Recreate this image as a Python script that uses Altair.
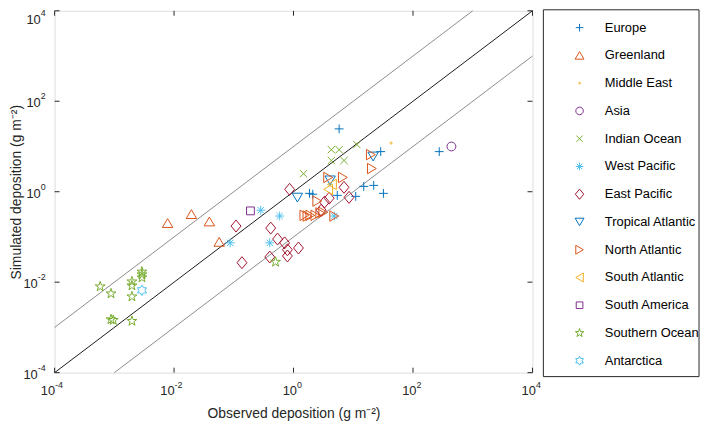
import altair as alt
import pandas as pd

regions = ["Europe", "Greenland", "Middle East", "Asia", "Indian Ocean", "West Pacific",
           "East Pacific", "Tropical Atlantic", "North Atlantic", "South Atlantic",
           "South America", "Southern Ocean", "Antarctica"]
colors = ["#0072BD", "#D95319", "#EDB120", "#7E2F8E", "#77AC30", "#4DBEEE", "#A2142F",
          "#0072BD", "#D95319", "#EDB120", "#7E2F8E", "#77AC30", "#4DBEEE"]

# observed / simulated deposition (g m-2)
europe_obs = [5.8, 28.8, 275, 15, 22, 32, 11, 5.4, 1.85, 2.1]
europe_sim = [24.5, 7.7, 7.7, 1.31, 1.38, 0.92, 0.79, 0.83, 0.92, 0.88]
greenland_obs = [0.0078, 0.0195, 0.039, 0.057]
greenland_sim = [0.203, 0.32, 0.22, 0.078]
middle_east_obs = [43]
middle_east_sim = [11.9]
asia_obs = [440]
asia_sim = [10]
indian_obs = [4.3, 5.8, 4.3, 7.0, 11.5, 1.47]
indian_sim = [8.5, 8.5, 4.9, 4.9, 11, 2.5]
west_pacific_obs = [0.283, 0.586, 0.087, 0.40, 4.8]
west_pacific_sim = [0.39, 0.29, 0.074, 0.074, 0.29]
east_pacific_obs = [0.109, 0.137, 0.415, 0.54, 0.71, 0.79, 1.21, 0.40, 0.79, 0.86, 7.0, 8.5, 3.95, 3.3, 2.9]
east_pacific_sim = [0.174, 0.027, 0.157, 0.090, 0.074, 0.052, 0.057, 0.036, 0.038, 1.13, 1.25, 0.75, 0.72, 0.59, 0.39]
tropical_obs = [1.16, 4.1, 21.5]
tropical_sim = [0.74, 1.78, 6.0]
north_obs = [19.7, 20.5, 3.8, 6.7, 2.5, 4.8, 1.52, 1.71, 1.91, 2.32, 2.8, 3.15]
north_sim = [6.6, 3.26, 2.07, 2.07, 0.62, 0.29, 0.30, 0.29, 0.30, 0.30, 0.34, 0.35]
south_atl_obs = [3.8, 4.4]
south_atl_sim = [1.13, 1.45]
south_america_obs = [0.19]
south_america_sim = [0.377]
southern_obs = [5.8e-4, 8.8e-4, 0.00197, 0.00197, 0.00197, 0.0029, 0.0029, 0.0029, 8.8e-4, 9.6e-4, 0.00197, 0.50]
southern_sim = [0.008, 0.0056, 0.0103, 0.0084, 0.0048, 0.017, 0.0148, 0.0126, 0.0015, 0.00145, 0.00138, 0.028]
antarctica_obs = [0.0029]
antarctica_sim = [0.0066]

obs_lists = [europe_obs, greenland_obs, middle_east_obs, asia_obs, indian_obs, west_pacific_obs,
             east_pacific_obs, tropical_obs, north_obs, south_atl_obs, south_america_obs,
             southern_obs, antarctica_obs]
sim_lists = [europe_sim, greenland_sim, middle_east_sim, asia_sim, indian_sim, west_pacific_sim,
             east_pacific_sim, tropical_sim, north_sim, south_atl_sim, south_america_sim,
             southern_sim, antarctica_sim]

tick_values = [1e-4, 1e-2, 1, 1e2, 1e4]
tick_exps = ["-4", "-2", "0", "2", "4"]

# marker shapes (MATLAB-like)
shapes = [
    "M-0.85,0L0.85,0M0,-0.85L0,0.85",                                   # +
    "M0,-0.85L1,0.85L-1,0.85Z",                                         # triangle up
    "M0.2,0A0.2,0.2 0 1,1 -0.2,0A0.2,0.2 0 1,1 0.2,0Z",                 # dot
    "M0.85,0A0.85,0.85 0 1,1 -0.85,0A0.85,0.85 0 1,1 0.85,0Z",          # circle
    "M-0.7,-0.7L0.7,0.7M-0.7,0.7L0.7,-0.7",                             # x
    "M-0.85,0L0.85,0M0,-0.85L0,0.85M-0.6,-0.6L0.6,0.6M-0.6,0.6L0.6,-0.6",  # asterisk
    "M0,-1.15L0.95,0L0,1.15L-0.95,0Z",                                  # diamond
    "M0,0.85L1,-0.85L-1,-0.85Z",                                        # triangle down
    "M0.85,0L-0.85,1L-0.85,-1Z",                                        # triangle right
    "M-0.85,0L0.85,1L0.85,-1Z",                                         # triangle left
    "M-0.75,-0.75L0.75,-0.75L0.75,0.75L-0.75,0.75Z",                    # square
    "M0,-1L0.2245,-0.309L0.951,-0.309L0.363,0.118L0.588,0.809L0,0.382L-0.588,0.809L-0.363,0.118L-0.951,-0.309L-0.2245,-0.309Z",  # star
    "M0,-1L0.289,-0.5L0.866,-0.5L0.577,0L0.866,0.5L0.289,0.5L0,1L-0.289,0.5L-0.866,0.5L-0.577,0L-0.866,-0.5L-0.289,-0.5Z",  # hexagram
]

rows = []
for name, obs, sim in zip(regions, obs_lists, sim_lists):
    for o, s in zip(obs, sim):
        rows.append({"region": name, "obs": o, "sim": s})
df = pd.DataFrame(rows)

W, H = 482, 365
FONT = "Liberation Sans"
TXT = "#262626"
xscale = alt.Scale(type="log", domain=[1e-4, 1e4], nice=False)
yscale = alt.Scale(type="log", domain=[1e-4, 1e4], nice=False)

x_enc = alt.X("obs:Q", scale=xscale, title="Observed deposition (g m⁻²)",
              axis=alt.Axis(values=tick_values, labels=False, grid=False, domain=False, ticks=False,
                            titleFont=FONT, titleFontSize=14, titleFontWeight="normal", titleColor=TXT,
                            titleY=34, titleBaseline="top"))
y_enc = alt.Y("sim:Q", scale=yscale, title="Simulated deposition (g m⁻²)",
              axis=alt.Axis(values=tick_values, labels=False, grid=False, domain=False, ticks=False,
                            titleFont=FONT, titleFontSize=14, titleFontWeight="normal", titleColor=TXT,
                            titleX=-31, titleBaseline="bottom"))

leg = alt.Legend(orient="none", legendX=523, legendY=10, padding=0, labelFont=FONT, labelFontSize=13,
                 labelColor="#000000", symbolSize=80, symbolStrokeWidth=1, clipHeight=14,
                 rowPadding=14, labelOffset=19, symbolOffset=0)

points = alt.Chart(df).mark_point(filled=False, strokeWidth=1, size=110, opacity=1).encode(
    x=x_enc, y=y_enc,
    color=alt.Color("region:N", scale=alt.Scale(domain=regions, range=colors), legend=leg, title=None),
    shape=alt.Shape("region:N", scale=alt.Scale(domain=regions, range=shapes), legend=leg, title=None),
)

one_obs = [1e-4, 1e4]
one_sim = [1e-4, 1e4]
up_obs = [1e-4, 1e3]
up_sim = [1e-3, 1e4]
lo_obs = [1e-3, 1e4]
lo_sim = [1e-4, 1e3]

line11 = alt.Chart(pd.DataFrame({"obs": one_obs, "sim": one_sim})).mark_line(
    color="#1a1a1a", strokeWidth=1).encode(x=x_enc, y=y_enc)
line_up = alt.Chart(pd.DataFrame({"obs": up_obs, "sim": up_sim})).mark_line(
    color="#8c8c8c", strokeWidth=1).encode(x=x_enc, y=y_enc)
line_lo = alt.Chart(pd.DataFrame({"obs": lo_obs, "sim": lo_sim})).mark_line(
    color="#8c8c8c", strokeWidth=1).encode(x=x_enc, y=y_enc)

tdf_x = pd.DataFrame({"obs": tick_values})
tdf_y = pd.DataFrame({"sim": tick_values})
tx_bot = alt.Chart(tdf_x).mark_rule(color=TXT, strokeWidth=1).encode(
    x=x_enc, y=alt.value(H), y2=alt.value(H - 5))
tx_top = alt.Chart(tdf_x).mark_rule(color=TXT, strokeWidth=1).encode(
    x=x_enc, y=alt.value(0), y2=alt.value(5))
ty_left = alt.Chart(tdf_y).mark_rule(color=TXT, strokeWidth=1).encode(
    y=y_enc, x=alt.value(0), x2=alt.value(5))
ty_right = alt.Chart(tdf_y).mark_rule(color=TXT, strokeWidth=1).encode(
    y=y_enc, x=alt.value(W), x2=alt.value(W - 5))

# tick labels: "10" with a raised exponent, MATLAB style
lab_x = pd.DataFrame({"obs": tick_values, "base": ["10"] * 5, "exp": tick_exps})
lab_y = pd.DataFrame({"sim": tick_values, "base": ["10"] * 5, "exp": tick_exps})
neg_x = lab_x[lab_x["exp"].str.startswith("-")]
pos_x = lab_x[~lab_x["exp"].str.startswith("-")]
neg_y = lab_y[lab_y["exp"].str.startswith("-")]
pos_y = lab_y[(~lab_y["exp"].str.startswith("-")) & (lab_y["sim"] < 1e4)]
top_y = lab_y[lab_y["sim"] >= 1e4]


def xlabels(d, dx):
    base = alt.Chart(d).mark_text(font=FONT, fontSize=13, color=TXT, align="right",
                                  baseline="alphabetic", dx=dx).encode(
        x=x_enc, y=alt.value(H + 23), text="base:N")
    ex = alt.Chart(d).mark_text(font=FONT, fontSize=9, color=TXT, align="left",
                                baseline="alphabetic", dx=dx).encode(
        x=x_enc, y=alt.value(H + 15), text="exp:N")
    return [base, ex]


def ylabels(d, base_x, dy):
    base = alt.Chart(d).mark_text(font=FONT, fontSize=13, color=TXT, align="right",
                                  baseline="alphabetic", dy=6 + dy).encode(
        y=y_enc, x=alt.value(base_x), text="base:N")
    ex = alt.Chart(d).mark_text(font=FONT, fontSize=9, color=TXT, align="right",
                                baseline="alphabetic", dy=-2 + dy).encode(
        y=y_enc, x=alt.value(-9), text="exp:N")
    return [base, ex]


label_layers = (xlabels(neg_x, 0.5) + xlabels(pos_x, 3.5)
                + ylabels(neg_y, -17, 0) + ylabels(pos_y, -14, 0) + ylabels(top_y, -14, 7))

legend_box = alt.Chart(pd.DataFrame({"k": [0]})).mark_rect(
    fill="white", stroke=TXT, strokeWidth=1).encode(
    x=alt.value(493), x2=alt.value(650), y=alt.value(-1), y2=alt.value(369))

chart = alt.layer(legend_box, line_up, line_lo, line11, tx_bot, tx_top, ty_left, ty_right,
                  *label_layers, points).properties(
    width=W, height=H,
    autosize=alt.AutoSizeParams(type="none"),
    padding={"left": 47, "top": 1, "right": 170, "bottom": 52},
).configure_view(stroke=TXT, strokeWidth=1).configure(background="white")

chart.save("out.html", embed_options={"renderer": "svg", "actions": False})
